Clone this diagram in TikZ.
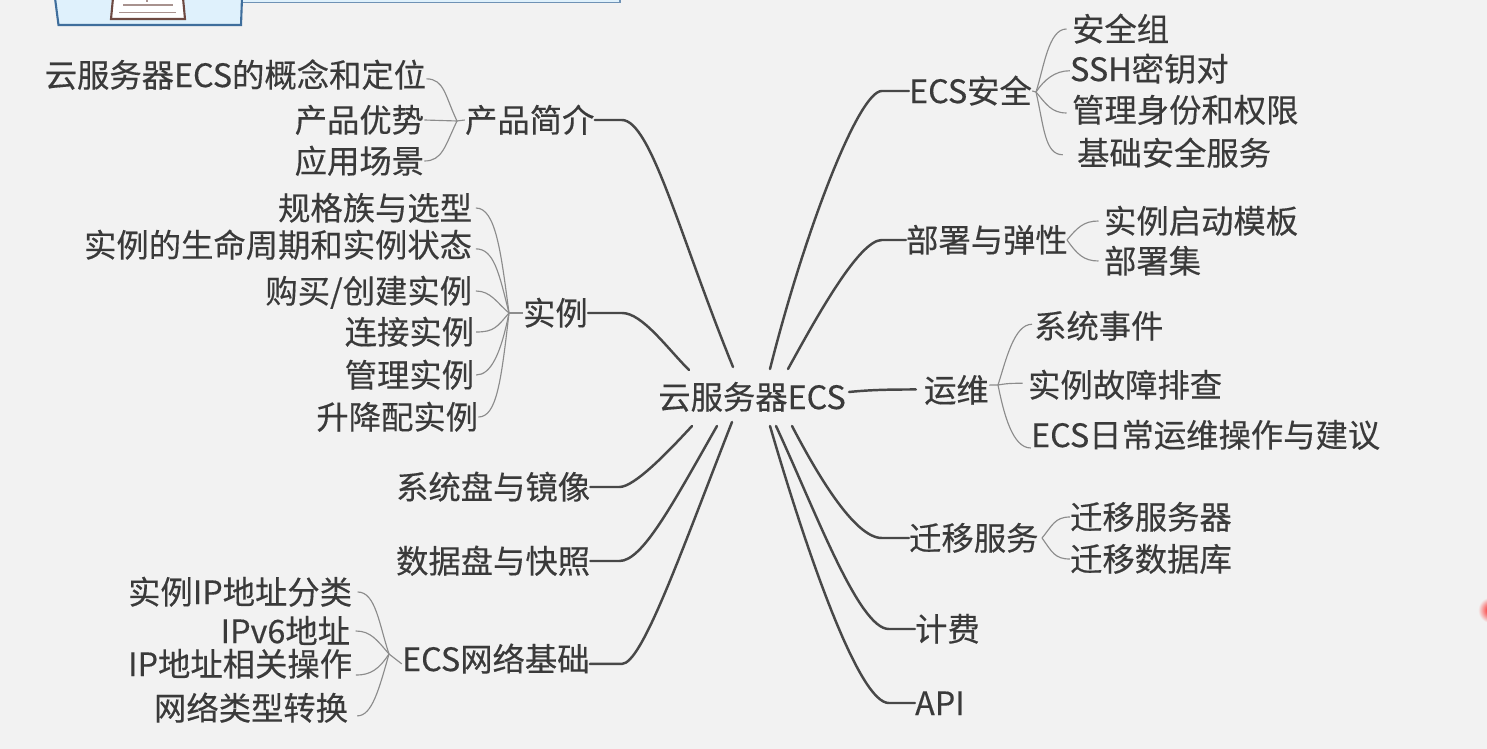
\documentclass[tikz,border=0pt]{standalone}
\usepackage{fontspec}
\setmainfont{Noto Sans CJK SC}[FakeBold=0.35]
\definecolor{pagebg}{HTML}{F2F2F2}
\definecolor{inktext}{HTML}{3A3A3A}
\definecolor{inkbranch}{HTML}{484848}
\definecolor{inktwig}{HTML}{8C8C8C}
\definecolor{boxfill}{HTML}{DFF1FC}
\definecolor{boxline}{HTML}{3F6E9C}
\definecolor{paperline}{HTML}{6E4A42}
\begin{document}
\begin{tikzpicture}[x=0.02cm,y=-0.02cm]
    \tikzstyle{every node}+=[inner sep=0pt,text=inktext,font=\fontsize{18.4}{18.4}\selectfont,text height=16pt,text depth=2.2pt]
    \tikzstyle{topic}=[anchor=west,xshift=-0.7pt]
    \tikzstyle{leaf}=[anchor=east,xshift=0.8pt]
    \tikzstyle{branch}=[draw=inkbranch,line width=1.4pt,line cap=round]
    \tikzstyle{twig}=[draw=inktwig,line width=0.65pt]
    \useasboundingbox (0,0) rectangle (1487,749);
    \clip (0,0) rectangle (1487,749);
    \fill [pagebg] (0,0) rectangle (1487,749);
    % cut-off box at the top
    \fill [boxfill] (242,0) rectangle (620,2);
    \draw [boxline!75,line width=0.8pt] (242,2.5) -- (620,2.5) -- (620,0);
    \draw [boxline,fill=boxfill,line width=1.2pt] (55,-2) -- (58.5,25) -- (241,25) -- (242,-2);
    \draw [paperline,fill=white,line width=1.2pt] (113,-2) -- (111,19) -- (185,19) -- (183,-2);
    \draw [paperline!60,line width=1.1pt] (123,5) -- (173,5);
    \draw [paperline!60,line width=1.1pt] (119,12.5) -- (176,12.5);
    \draw [paperline!60,line width=1.1pt] (147,0) -- (147,2);
    \shade [inner color=red,outer color=pagebg] (1491,610) circle (13);
    % centre
    \node (root) at (752,397) {云服务器ECS};
    \coordinate (rootA) at (733,367);
    \coordinate (rootB) at (689,370);
    \coordinate (rootC) at (692,426);
    \coordinate (rootD) at (717,426);
    \coordinate (rootE) at (732,422);
    \coordinate (rootF) at (770,369);
    \coordinate (rootG) at (788,369);
    \coordinate (rootH) at (849,392);
    \coordinate (rootI) at (792,426);
    \coordinate (rootJ) at (776,426);
    \coordinate (rootK) at (770,426);
    % left side
    \node [topic] (jianjie) at (466,120) {产品简介};
    \node [topic] (shili) at (524,313) {实例};
    \node [topic] (xitongpan) at (397,487) {系统盘与镜像};
    \node [topic] (shujupan) at (397,561) {数据盘与快照};
    \node [topic] (wangluo) at (403,659) {ECS网络基础};
    \draw [branch] (jianjie.east) -- ++(27,0) .. controls +(29,0) and +(-53,-130) .. (rootA);
    \draw [branch] (shili.east) -- ++(34,0) .. controls +(20,0) and +(-22,-22) .. (rootB);
    \draw [branch] (xitongpan.east) -- ++(29,0) .. controls +(15,0) and +(-24,26) .. (rootC);
    \draw [branch] (shujupan.east) -- ++(29,0) .. controls +(23,0) and +(-45,79) .. (rootD);
    \draw [branch] ([yshift=-2.8pt]wangluo.east) -- ++(32,0) .. controls +(20,0) and +(-52,133) .. (rootE);
    % right side
    \node [topic] (anquan) at (910,91) {ECS安全};
    \node [topic] (bushu) at (907,240) {部署与弹性};
    \node [topic] (yunwei) at (925,390) {运维};
    \node [topic] (qianyi) at (910,538) {迁移服务};
    \node [topic] (jifei) at (916,629) {计费};
    \node [topic] (api) at (916,703) {API};
    \draw [branch] (anquan.west) -- ++(-27,0) .. controls +(-23,0) and +(35,-139) .. (rootF);
    \draw [branch] (bushu.west) -- ++(-24,0) .. controls +(-23,0) and +(27,-49) .. (rootG);
    \draw [branch] ([xshift=-4.5pt,yshift=0.3pt]yunwei.west) .. controls +(-30,0) and +(20,-2) .. (rootH);
    \draw [branch] (qianyi.west) -- ++(-27,0) .. controls +(-28,0) and +(23,44) .. (rootI);
    \draw [branch] (jifei.west) -- ++(-26,0) .. controls +(-30,0) and +(39,84) .. (rootJ);
    \draw [branch] (api.west) -- ++(-26,0) .. controls +(-28,0) and +(42,144) .. (rootK);
    % 产品简介
    \coordinate (hubA) at (457,121);
    \node [leaf] (gainian) at (425,75) {云服务器ECS的概念和定位};
    \node [leaf] (youshi) at (423,120) {产品优势};
    \node [leaf] (changjing) at (423,161) {应用场景};
    \draw [twig] (jianjie.west) -- (hubA);
    \draw [twig] (hubA) .. controls +(-12,-25) and +(18,0) .. ([yshift=-2.2pt]gainian.east);
    \draw [twig] (hubA) -- (youshi.east);
    \draw [twig] (hubA) .. controls +(-12,25) and +(18,0) .. (changjing.east);
    % 实例
    \coordinate (hubB) at (509,313);
    \node [leaf] (guige) at (471,208) {规格族与选型};
    \node [leaf] (zhouqi) at (471,245) {实例的生命周期和实例状态};
    \node [leaf] (goumai) at (471,291) {购买/创建实例};
    \node [leaf] (lianjie) at (473,332) {连接实例};
    \node [leaf] (guanli) at (473,375) {管理实例};
    \node [leaf] (shengjiang) at (477,417) {升降配实例};
    \draw [twig] (shili.west) -- (hubB);
    \draw [twig] (hubB) .. controls +(-8,-60) and +(20,0) .. ([xshift=2pt]guige.east);
    \draw [twig] (hubB) .. controls +(-10,-40) and +(18,0) .. ([xshift=2pt,yshift=-2.2pt]zhouqi.east);
    \draw [twig] (hubB) .. controls +(-12,-10) and +(15,0) .. ([xshift=2pt]goumai.east);
    \draw [twig] (hubB) .. controls +(-12,14) and +(18,0) .. ([xshift=1pt]lianjie.east);
    \draw [twig] (hubB) .. controls +(-8,40) and +(15,0) .. ([xshift=1pt]guanli.east);
    \draw [twig] (hubB) .. controls +(-8,70) and +(18,0) .. (shengjiang.east);
    % ECS网络基础
    \coordinate (hubC) at (389,654);
    \node [leaf] (fenlei) at (351,592) {实例IP地址分类};
    \node [leaf] (ipvsix) at (349,631) {IPv6地址};
    \node [leaf] (caozuo) at (351,664) {IP地址相关操作};
    \node [leaf] (zhuanhuan) at (347,708) {网络类型转换};
    \draw [twig] ([yshift=-2.8pt]wangluo.west) -- (hubC);
    \draw [twig] (hubC) .. controls +(-10,-30) and +(18,0) .. ([xshift=3pt]fenlei.east);
    \draw [twig] (hubC) .. controls +(-12,-14) and +(15,0) .. ([xshift=3pt]ipvsix.east);
    \draw [twig] (hubC) .. controls +(-10,15) and +(15,0) .. ([xshift=2pt,yshift=-6.3pt]caozuo.east);
    \draw [twig] (hubC) .. controls +(-10,35) and +(15,0) .. ([xshift=5pt,yshift=-4.5pt]zhuanhuan.east);
    % ECS安全
    \coordinate (hubD) at (1036,92);
    \node [topic] (anquanzu) at (1073,29) {安全组};
    \node [topic] (ssh) at (1071,69) {SSH密钥对};
    \node [topic] (shenfen) at (1073,110) {管理身份和权限};
    \node [topic] (jichu) at (1078,153) {基础安全服务};
    \draw [twig] (anquan.east) -- (hubD);
    \draw [twig] (hubD) .. controls +(8,-25) and +(-18,0) .. ([xshift=-3pt]anquanzu.west);
    \draw [twig] (hubD) .. controls +(8,-12) and +(-15,0) .. ([yshift=-1pt]ssh.west);
    \draw [twig] (hubD) .. controls +(10,12) and +(-15,0) .. ([xshift=-3pt,yshift=-1.7pt]shenfen.west);
    \draw [twig] (hubD) .. controls +(8,35) and +(-18,0) .. ([xshift=-8pt,yshift=-1pt]jichu.west);
    % 部署与弹性
    \coordinate (hubE) at (1067,240);
    \node [topic] (moban) at (1105,221) {实例启动模板};
    \node [topic] (bushuji) at (1105,261) {部署集};
    \draw [twig] (hubE) .. controls +(10,-12) and +(-15,0) .. ([xshift=-3pt]moban.west);
    \draw [twig] (hubE) .. controls +(10,14) and +(-15,0) .. ([xshift=-3pt]bushuji.west);
    % 运维
    \coordinate (hubF) at (998,385);
    \node [topic] (shijian) at (1035,326) {系统事件};
    \node [topic] (guzhang) at (1029,385) {实例故障排查};
    \node [topic] (richang) at (1032,435) {ECS日常运维操作与建议};
    \draw [twig] ([yshift=2.8pt]yunwei.east) -- (hubF);
    \draw [twig] (hubF) .. controls +(8,-25) and +(-18,0) .. ([xshift=-1pt,yshift=1pt]shijian.west);
    \draw [twig] (hubF) .. controls +(6,-1) and +(-15,0) .. ([xshift=-3pt,yshift=1pt]guzhang.west);
    \draw [twig] (hubF) .. controls +(6,30) and +(-18,0) .. ([yshift=-7.4pt]richang.west);
    % 迁移服务
    \coordinate (hubG) at (1042,538);
    \node [topic] (fuwuqi) at (1071,517) {迁移服务器};
    \node [topic] (shujuku) at (1071,559) {迁移数据库};
    \draw [twig] (hubG) .. controls +(10,-12) and +(-15,0) .. (fuwuqi.west);
    \draw [twig] (hubG) .. controls +(10,14) and +(-15,0) .. (shujuku.west);
\end{tikzpicture}
\end{document}
